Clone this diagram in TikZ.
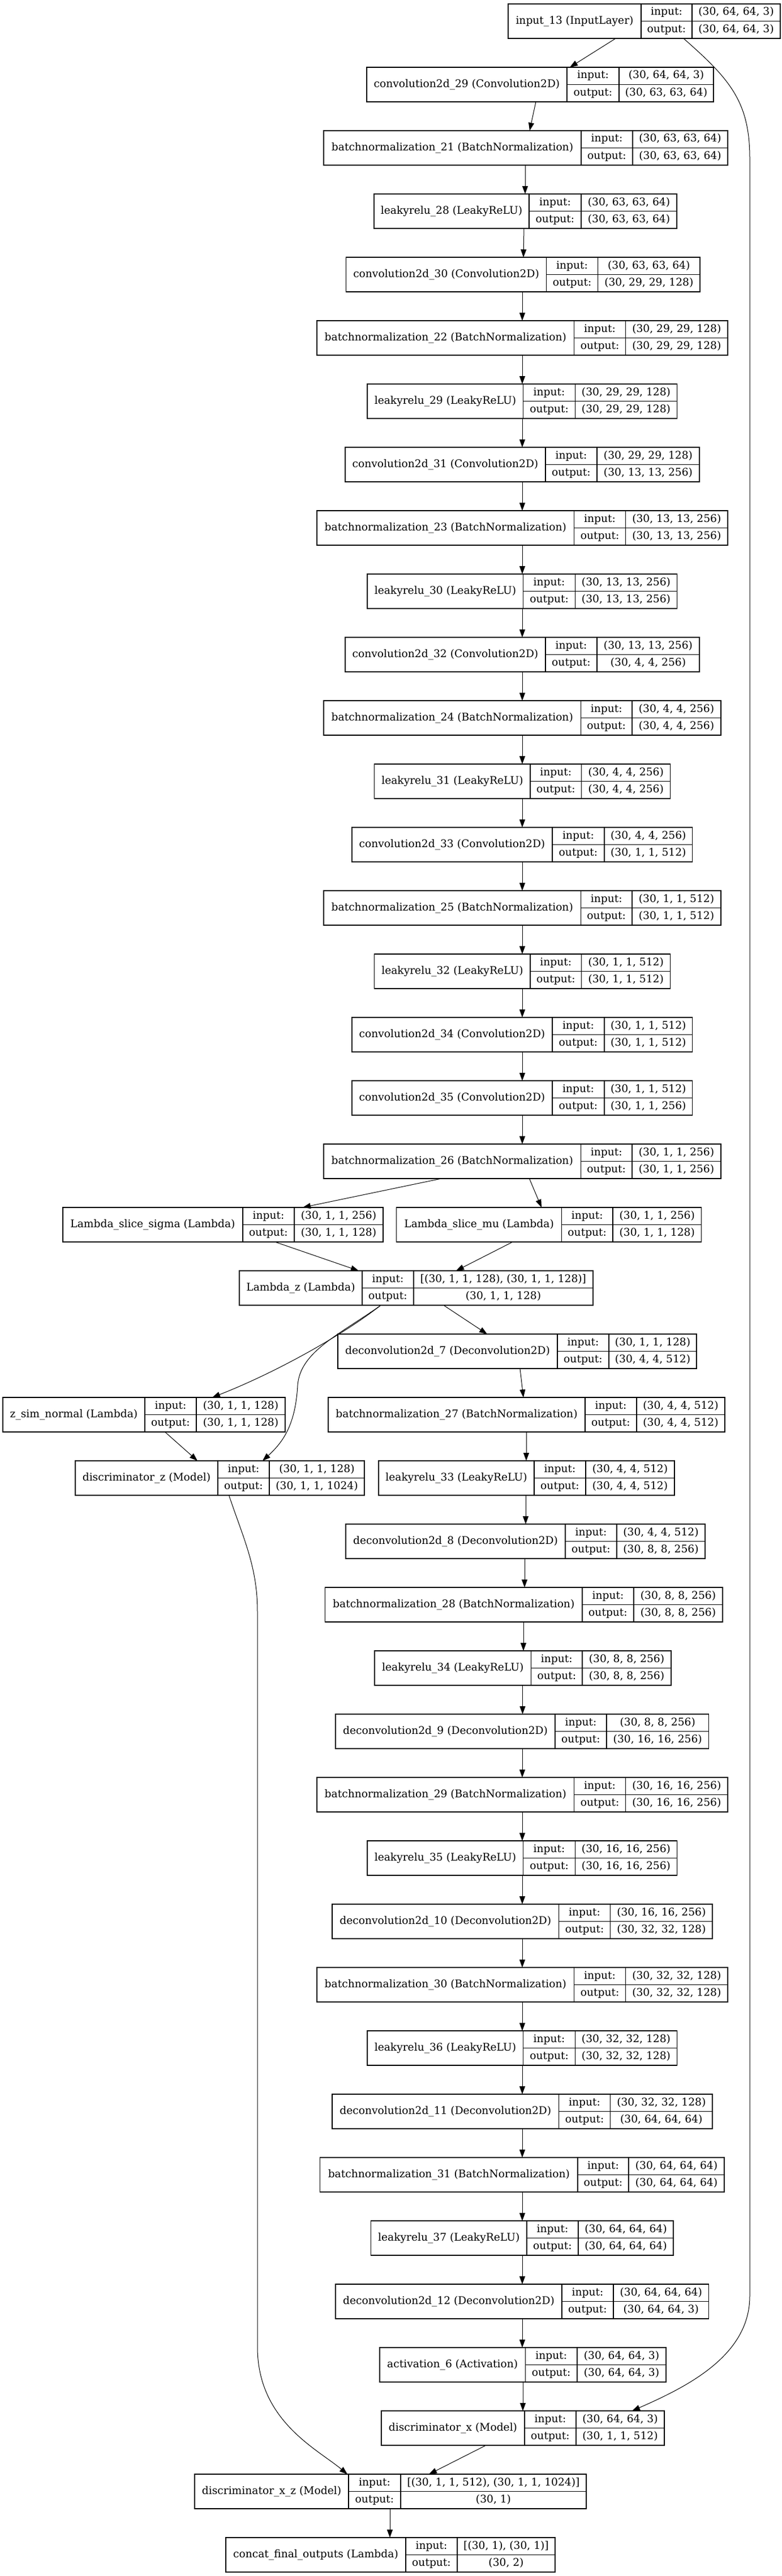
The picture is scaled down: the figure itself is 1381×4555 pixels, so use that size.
\documentclass[tikz,border=0pt]{standalone}
\usepackage{fontspec}
\setmainfont{DejaVu Serif}
\usetikzlibrary{arrows.meta}
\tikzset{
  recbox/.style={draw=black, line width=1.2pt, inner sep=0pt, outer sep=0pt, minimum height=61pt, fill=white},
  recline/.style={draw=black, line width=1.2pt},
  rectext/.style={inner sep=0pt, font=\fontsize{18.67}{22}\selectfont, text height=14pt, text depth=4.5pt, anchor=center},
  arr/.style={draw=black, line width=1pt, -{Triangle[length=14pt,width=10pt]}},
}
\newcommand\recnode[9]{%
  \pgfmathsetmacro\rT{7+112*#2}%
  \pgfmathsetmacro\rB{\rT+61}%
  \pgfmathsetmacro\rM{\rT+30.5}%
  \pgfmathsetmacro\rW{#6-#3}%
  \pgfmathsetmacro\rI{\rT+15.25}%
  \pgfmathsetmacro\rO{\rT+45.75}%
  \pgfmathsetmacro\cA{(#3+#4)/2}%
  \pgfmathsetmacro\cB{(#4+#5)/2}%
  \pgfmathsetmacro\cC{(#5+#6)/2}%
  \node[recbox, minimum width=\rW pt, anchor=north west] (#1) at (#3,\rT) {};
  \draw[recline] (#4,\rT) -- (#4,\rB) (#5,\rT) -- (#5,\rB) (#4,\rM) -- (#6,\rM);
  \node[rectext] (#1-name) at (\cA,\rM) {#7};
  \node[rectext] (#1-il) at (\cB,\rI) {input:};
  \node[rectext] (#1-ol) at (\cB,\rO) {output:};
  \node[rectext] (#1-iv) at (\cC,\rI) {#8};
  \node[rectext] (#1-ov) at (\cC,\rO) {#9};
}
\newcommand\edgeline[4]{\draw[arr] (#2,0 |- #1.south) -- (#4,0 |- #3.north);}
\begin{document}
\begin{tikzpicture}[x=1pt,y=-1pt]
\fill[white] (0,0) rectangle (1381,4555);
\useasboundingbox (0,0) rectangle (1381,4555);

\recnode{in13}{0}{898}{1133}{1223}{1379}{input\_13 (InputLayer)}{(30, 64, 64, 3)}{(30, 64, 64, 3)}
\recnode{c29}{1}{648}{1002}{1094}{1261}{convolution2d\_29 (Convolution2D)}{(30, 64, 64, 3)}{(30, 63, 63, 64)}
\recnode{b21}{2}{572}{1027}{1118}{1286}{batchnormalization\_21 (BatchNormalization)}{(30, 63, 63, 64)}{(30, 63, 63, 64)}
\recnode{l28}{3}{661}{935}{1027}{1196}{leakyrelu\_28 (LeakyReLU)}{(30, 63, 63, 64)}{(30, 63, 63, 64)}
\recnode{c30}{4}{611.5}{965.6}{1056.6}{1237}{convolution2d\_30 (Convolution2D)}{(30, 63, 63, 64)}{(30, 29, 29, 128)}
\recnode{b22}{5}{560}{1014.6}{1105.6}{1286}{batchnormalization\_22 (BatchNormalization)}{(30, 29, 29, 128)}{(30, 29, 29, 128)}
\recnode{l29}{6}{649}{924.8}{1016.4}{1196.6}{leakyrelu\_29 (LeakyReLU)}{(30, 29, 29, 128)}{(30, 29, 29, 128)}
\recnode{c31}{7}{610}{964}{1055}{1236}{convolution2d\_31 (Convolution2D)}{(30, 29, 29, 128)}{(30, 13, 13, 256)}
\recnode{b23}{8}{560}{1014.6}{1105.6}{1286}{batchnormalization\_23 (BatchNormalization)}{(30, 13, 13, 256)}{(30, 13, 13, 256)}
\recnode{l30}{9}{649}{924.8}{1016.4}{1196.6}{leakyrelu\_30 (LeakyReLU)}{(30, 13, 13, 256)}{(30, 13, 13, 256)}
\recnode{c32}{10}{610}{964}{1055}{1236}{convolution2d\_32 (Convolution2D)}{(30, 13, 13, 256)}{(30, 4, 4, 256)}
\recnode{b24}{11}{572}{1026.5}{1117}{1274}{batchnormalization\_24 (BatchNormalization)}{(30, 4, 4, 256)}{(30, 4, 4, 256)}
\recnode{l31}{12}{661.8}{937}{1027.7}{1184.7}{leakyrelu\_31 (LeakyReLU)}{(30, 4, 4, 256)}{(30, 4, 4, 256)}
\recnode{c33}{13}{622}{976}{1068}{1223.6}{convolution2d\_33 (Convolution2D)}{(30, 4, 4, 256)}{(30, 1, 1, 512)}
\recnode{b25}{14}{572}{1026.5}{1117}{1274}{batchnormalization\_25 (BatchNormalization)}{(30, 1, 1, 512)}{(30, 1, 1, 512)}
\recnode{l32}{15}{661.8}{937}{1027.7}{1184.7}{leakyrelu\_32 (LeakyReLU)}{(30, 1, 1, 512)}{(30, 1, 1, 512)}
\recnode{c34}{16}{622}{976}{1068}{1223.6}{convolution2d\_34 (Convolution2D)}{(30, 1, 1, 512)}{(30, 1, 1, 512)}
\recnode{c35}{17}{622}{976}{1068}{1223.6}{convolution2d\_35 (Convolution2D)}{(30, 1, 1, 512)}{(30, 1, 1, 256)}
\recnode{b26}{18}{572}{1026.5}{1117}{1274}{batchnormalization\_26 (BatchNormalization)}{(30, 1, 1, 256)}{(30, 1, 1, 256)}
\recnode{lsig}{19}{111}{429}{520}{677}{Lambda\_slice\_sigma (Lambda)}{(30, 1, 1, 256)}{(30, 1, 1, 128)}
\recnode{lmu}{19}{700.7}{992.5}{1083}{1239.5}{Lambda\_slice\_mu (Lambda)}{(30, 1, 1, 256)}{(30, 1, 1, 128)}
\recnode{lz}{20}{423}{640}{731}{1048}{Lambda\_z (Lambda)}{[(30, 1, 1, 128), (30, 1, 1, 128)]}{(30, 1, 1, 128)}
\recnode{d7}{21}{597}{985}{1076}{1231}{deconvolution2d\_7 (Deconvolution2D)}{(30, 1, 1, 128)}{(30, 4, 4, 512)}
\recnode{zsim}{22}{5}{256}{347}{504}{z\_sim\_normal (Lambda)}{(30, 1, 1, 128)}{(30, 1, 1, 128)}
\recnode{b27}{22}{580}{1034}{1125}{1281}{batchnormalization\_27 (BatchNormalization)}{(30, 4, 4, 512)}{(30, 4, 4, 512)}
\recnode{dz}{23}{133}{385}{476}{644}{discriminator\_z (Model)}{(30, 1, 1, 128)}{(30, 1, 1, 1024)}
\recnode{l33}{23}{669}{944}{1035}{1192}{leakyrelu\_33 (LeakyReLU)}{(30, 4, 4, 512)}{(30, 4, 4, 512)}
\recnode{d8}{24}{611}{999}{1090}{1246}{deconvolution2d\_8 (Deconvolution2D)}{(30, 4, 4, 512)}{(30, 8, 8, 256)}
\recnode{b28}{25}{574.5}{1029}{1120}{1277}{batchnormalization\_28 (BatchNormalization)}{(30, 8, 8, 256)}{(30, 8, 8, 256)}
\recnode{l34}{26}{662}{938.6}{1029}{1186}{leakyrelu\_34 (LeakyReLU)}{(30, 8, 8, 256)}{(30, 8, 8, 256)}
\recnode{d9}{27}{593}{981}{1072}{1252.5}{deconvolution2d\_9 (Deconvolution2D)}{(30, 8, 8, 256)}{(30, 16, 16, 256)}
\recnode{b29}{28}{560}{1014.6}{1105.6}{1286}{batchnormalization\_29 (BatchNormalization)}{(30, 16, 16, 256)}{(30, 16, 16, 256)}
\recnode{l35}{29}{649}{924.8}{1016.4}{1196.6}{leakyrelu\_35 (LeakyReLU)}{(30, 16, 16, 256)}{(30, 16, 16, 256)}
\recnode{d10}{30}{587}{987.6}{1078.6}{1259}{deconvolution2d\_10 (Deconvolution2D)}{(30, 16, 16, 256)}{(30, 32, 32, 128)}
\recnode{b30}{31}{560}{1014.6}{1105.6}{1286}{batchnormalization\_30 (BatchNormalization)}{(30, 32, 32, 128)}{(30, 32, 32, 128)}
\recnode{l36}{32}{649}{924.8}{1016.4}{1196.6}{leakyrelu\_36 (LeakyReLU)}{(30, 32, 32, 128)}{(30, 32, 32, 128)}
\recnode{d11}{33}{587}{987.6}{1078.6}{1259}{deconvolution2d\_11 (Deconvolution2D)}{(30, 32, 32, 128)}{(30, 64, 64, 64)}
\recnode{b31}{34}{565.7}{1021}{1111}{1280}{batchnormalization\_31 (BatchNormalization)}{(30, 64, 64, 64)}{(30, 64, 64, 64)}
\recnode{l37}{35}{655.5}{931}{1022}{1190}{leakyrelu\_37 (LeakyReLU)}{(30, 64, 64, 64)}{(30, 64, 64, 64)}
\recnode{d12}{36}{593}{993}{1084}{1252.5}{deconvolution2d\_12 (Deconvolution2D)}{(30, 64, 64, 64)}{(30, 64, 64, 3)}
\recnode{act6}{37}{671}{928.5}{1020}{1177}{activation\_6 (Activation)}{(30, 64, 64, 3)}{(30, 64, 64, 3)}
\recnode{dx}{38}{674}{927}{1018}{1174}{discriminator\_x (Model)}{(30, 64, 64, 3)}{(30, 1, 1, 512)}
\recnode{dxz}{39}{344}{616}{708}{1036}{discriminator\_x\_z (Model)}{[(30, 1, 1, 512), (30, 1, 1, 1024)]}{(30, 1)}
\recnode{cat}{40}{399}{717}{808}{981}{concat\_final\_outputs (Lambda)}{[(30, 1), (30, 1)]}{(30, 2)}

% straight connectors
\edgeline{in13}{1088}{c29}{1007}
\edgeline{c29}{947}{b21}{936}
\edgeline{b21}{928}{l28}{928}
\edgeline{l28}{926}{c30}{925}
\edgeline{c30}{923}{b22}{923}
\edgeline{b22}{923}{l29}{923}
\edgeline{l29}{923}{c31}{923}
\edgeline{c31}{923}{b23}{923}
\edgeline{b23}{923}{l30}{923}
\edgeline{l30}{923}{c32}{923}
\edgeline{c32}{923}{b24}{923}
\edgeline{b24}{923}{l31}{923}
\edgeline{l31}{923}{c33}{923}
\edgeline{c33}{923}{b25}{923}
\edgeline{b25}{923}{l32}{923}
\edgeline{l32}{923}{c34}{923}
\edgeline{c34}{923}{c35}{923}
\edgeline{c35}{923}{b26}{923}
\edgeline{b26}{780}{lsig}{535}
\edgeline{b26}{935.5}{lmu}{957}
\edgeline{lsig}{486}{lz}{634}
\edgeline{lmu}{906}{lz}{806}
\edgeline{lz}{784}{d7}{861}
\edgeline{zsim}{291.5}{dz}{349}
\edgeline{d7}{919}{b27}{925}
\edgeline{b27}{930}{l33}{930}
\edgeline{l33}{929}{d8}{929}
\edgeline{d8}{927}{b28}{927}
\edgeline{b28}{925}{l34}{925}
\edgeline{l34}{923.5}{d9}{923.5}
\edgeline{d9}{923}{b29}{923}
\edgeline{b29}{923}{l35}{923}
\edgeline{l35}{923}{d10}{923}
\edgeline{d10}{923}{b30}{923}
\edgeline{b30}{923}{l36}{923}
\edgeline{l36}{923}{d11}{923}
\edgeline{d11}{923}{b31}{923}
\edgeline{b31}{923}{l37}{923}
\edgeline{l37}{923}{d12}{923}
\edgeline{d12}{923}{act6}{923}
\edgeline{act6}{924}{dx}{924}
\edgeline{dx}{858.6}{dxz}{758}
\edgeline{dxz}{689}{cat}{689}

% curved connectors
\draw[arr] (1208,0 |- in13.south) .. controls (1290,140) and (1325,180) .. (1325,280)
  -- (1325,4060) .. controls (1325,4165) and (1215,4220) .. (1117,0 |- dx.north);
\draw[arr] (673,0 |- lz.south) .. controls (600,2365) and (480,2430) .. (375,0 |- zsim.north);
\draw[arr] (673,0 |- lz.south) .. controls (600,2360) and (530,2390) .. (526,2450)
  .. controls (522,2520) and (500,2550) .. (464,0 |- dz.north);
\draw[arr] (404.6,0 |- dz.south) .. controls (430,2720) and (455,2770) .. (455,2850)
  -- (455,4150) .. controls (455,4280) and (560,4330) .. (614,0 |- dxz.north);
\end{tikzpicture}
\end{document}
